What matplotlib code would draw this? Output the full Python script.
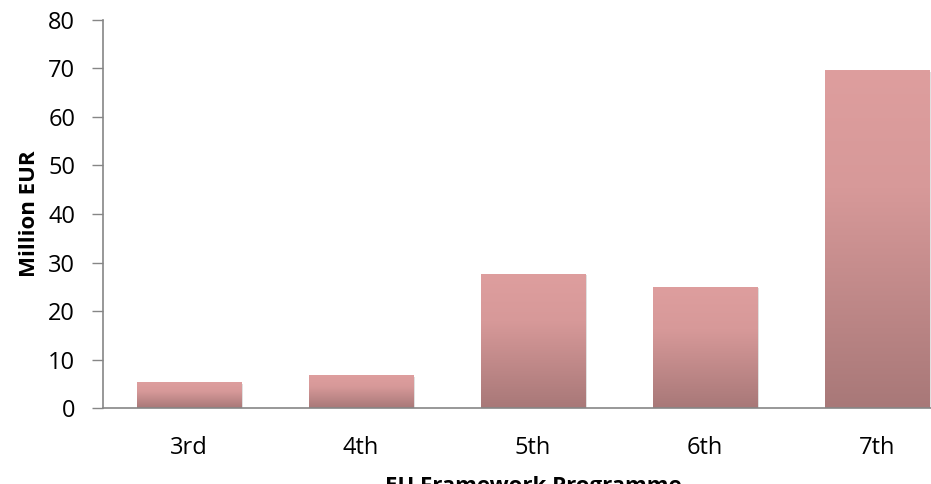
import numpy as np
import matplotlib
matplotlib.use("Agg")
import matplotlib.pyplot as plt
from matplotlib.colors import LinearSegmentedColormap

# data
programmes = ["3rd", "4th", "5th", "6th", "7th"]
million_eur = [5.2, 6.6, 27.6, 24.9, 69.5]
y_ticks = [0, 10, 20, 30, 40, 50, 60, 70, 80]

plt.rcParams['font.family'] = ['Open Sans', 'DejaVu Sans']

fig = plt.figure(figsize=(9.31, 4.84), dpi=100)
ax = fig.add_axes([0.1106, 0.157, 0.8894, 0.8017])

# excel-like vertical gradient, light on top, darker at the base
grad = LinearSegmentedColormap.from_list(
    "bar_grad", [(0.0, "#A87878"), (0.65, "#D79999"), (1.0, "#DE9E9E")])
g = np.linspace(0, 1, 256).reshape(-1, 1)

bar_w = 0.605
xs = np.arange(len(programmes))
for x, v in zip(xs, million_eur):
    # soft shadow
    ax.bar(x + 0.012, v, width=bar_w, bottom=-0.25, color="#000000",
           alpha=0.12, zorder=1, linewidth=0)
    ax.imshow(g, cmap=grad, origin="lower", aspect="auto", zorder=2,
              extent=[x - bar_w / 2, x + bar_w / 2, 0, v], interpolation="bilinear")

ax.set_xlim(-0.5, 4.315)
ax.set_ylim(0, 80)
ax.set_yticks(y_ticks)
ax.set_xticks(xs)
ax.set_xticklabels(programmes)
ax.tick_params(axis="y", length=8, width=1, color="#868686", labelsize=17, pad=12)
ax.tick_params(axis="x", length=0, labelsize=17, pad=20)

for s in ["top", "right"]:
    ax.spines[s].set_visible(False)
for s in ["left", "bottom"]:
    ax.spines[s].set_color("#868686")
    ax.spines[s].set_linewidth(1.2)
ax.spines["bottom"].set_zorder(3)

ax.set_ylabel("Million EUR", fontsize=16, fontweight="bold", labelpad=6)
ax.text(2, -0.176, "EU Framework Programme", transform=ax.get_xaxis_transform(),
        ha="center", va="top", fontsize=16, fontweight="bold", clip_on=False)

fig.savefig("out.png", dpi=100)
